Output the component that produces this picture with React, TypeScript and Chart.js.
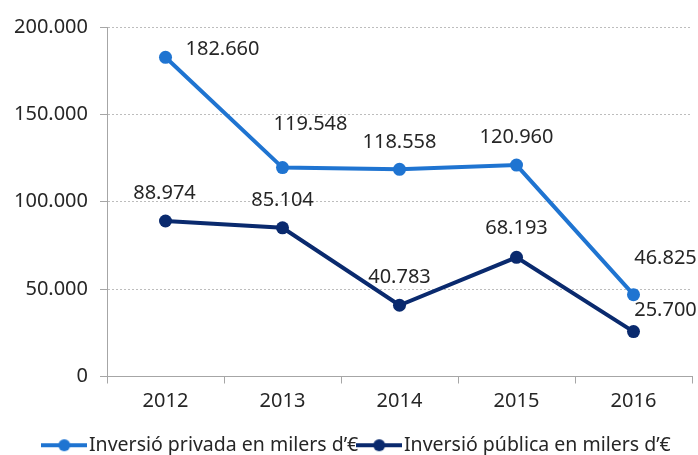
import React, { useEffect, useRef } from "react";
import { Chart, registerables } from "chart.js";

Chart.register(...registerables);

const categories = ["2012", "2013", "2014", "2015", "2016"];
const privada = [182660, 119548, 118558, 120960, 46825];
const publica = [88974, 85104, 40783, 68193, 25700];
const yTicks = [0, 50000, 100000, 150000, 200000];
const seriesNames = ["Inversió privada en milers d’€", "Inversió pública en milers d’€"];
const seriesColors = ["#1f74d1", "#0a2a6e"];

// label offsets relative to each point (pixels), per series
const labelOffsets = [
  [[57, -8], [28, -43], [0, -27], [0, -28], [32, -36]],
  [[-1, -28], [0, -27], [0, -28], [0, -29], [32, -21]],
];

const FONT = '"Noto Sans", sans-serif';
const TEXT = "#262626";
const AXIS = "#a6a6a6";
const LEGEND_SHIFT = 14;

function fmt(v: number): string {
  return String(Math.round(v)).replace(/\B(?=(\d{3})+(?!\d))/g, ".");
}

function legendMarker(color: string): HTMLCanvasElement {
  const c = document.createElement("canvas");
  c.width = 46;
  c.height = 14;
  const g = c.getContext("2d")!;
  g.strokeStyle = color;
  g.lineWidth = 4;
  g.beginPath();
  g.moveTo(0, 7);
  g.lineTo(46, 7);
  g.stroke();
  g.fillStyle = color;
  g.beginPath();
  g.arc(23, 7, 6, 0, Math.PI * 2);
  g.fill();
  return c;
}

const dataLabels = {
  id: "dataLabels",
  afterLayout(chart: any) {
    if (chart.legend) {
      chart.legend.left += LEGEND_SHIFT;
      chart.legend.right += LEGEND_SHIFT;
    }
  },
  afterDatasetsDraw(chart: any) {
    const ctx = chart.ctx;
    ctx.save();
    ctx.font = `20px ${FONT}`;
    ctx.fillStyle = TEXT;
    ctx.textAlign = "center";
    ctx.textBaseline = "middle";
    chart.data.datasets.forEach((ds: any, i: number) => {
      const meta = chart.getDatasetMeta(i);
      meta.data.forEach((pt: any, j: number) => {
        const [dx, dy] = labelOffsets[i][j];
        ctx.fillText(fmt(ds.data[j]), pt.x + dx, pt.y + dy);
      });
    });
    ctx.restore();
  },
};

export default function App() {
  const ref = useRef<HTMLCanvasElement | null>(null);

  useEffect(() => {
    if (!ref.current) return;
    const markers = seriesColors.map(legendMarker);
    const chart = new Chart(ref.current, {
      type: "line",
      data: {
        labels: categories,
        datasets: [privada, publica].map((d, i) => ({
          label: seriesNames[i],
          data: d,
          borderColor: seriesColors[i],
          backgroundColor: seriesColors[i],
          pointBackgroundColor: seriesColors[i],
          pointBorderColor: seriesColors[i],
          pointBorderWidth: 0,
          borderWidth: 4,
          pointRadius: 6.5,
          pointStyle: "circle",
          tension: 0,
          fill: false,
        })),
      },
      options: {
        animation: false,
        responsive: true,
        maintainAspectRatio: false,
        layout: { autoPadding: false, padding: { top: 27, right: 6, left: 0, bottom: -10 } },
        plugins: {
          tooltip: { enabled: false },
          legend: {
            position: "bottom",
            labels: {
              usePointStyle: true,
              pointStyleWidth: 30,
              boxHeight: 14,
              padding: 6,
              color: TEXT,
              font: { family: FONT, size: 19.5 },
              generateLabels: (c: any) =>
                c.data.datasets.map((ds: any, i: number) => ({
                  text: ds.label,
                  fillStyle: seriesColors[i],
                  strokeStyle: seriesColors[i],
                  pointStyle: markers[i],
                  lineWidth: 0,
                  datasetIndex: i,
                  fontColor: TEXT,
                })),
            },
          },
        },
        scales: {
          x: {
            offset: true,
            afterFit: (s: any) => {
              s.height = 53;
            },
            grid: {
              display: true,
              offset: true,
              drawOnChartArea: false,
              drawTicks: true,
              tickLength: 7,
              color: AXIS,
            },
            border: { display: true, color: AXIS, width: 1 },
            ticks: { color: TEXT, font: { family: FONT, size: 20 }, padding: 6 },
          },
          y: {
            min: 0,
            max: 200000,
            afterBuildTicks: (s: any) => {
              s.ticks = yTicks.map((v) => ({ value: v }));
            },
            afterFit: (s: any) => {
              s.width = 107;
            },
            grid: {
              color: "#bdbdbd",
              tickColor: AXIS,
              tickLength: 7,
              drawTicks: true,
            },
            border: { display: true, color: AXIS, width: 1, dash: [2, 2] },
            ticks: {
              color: TEXT,
              font: { family: FONT, size: 20 },
              padding: 12,
              callback: (v: any) => fmt(Number(v)),
            },
          },
        },
      },
      plugins: [dataLabels],
    } as any);
    return () => chart.destroy();
  }, []);

  return (
    <div style={{ position: "absolute", left: 0, top: 0, width: 698, height: 455, background: "#fff" }}>
      <canvas ref={ref} />
    </div>
  );
}
